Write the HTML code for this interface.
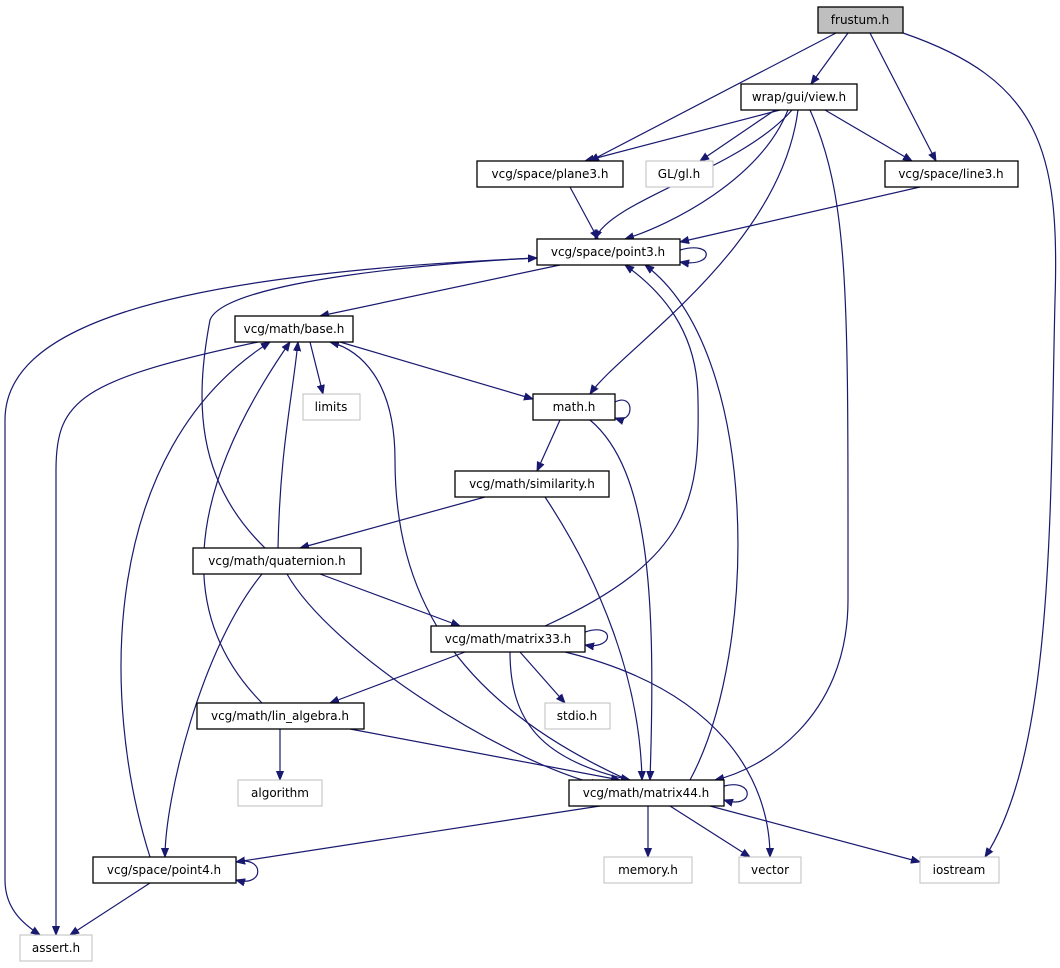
<!DOCTYPE html>
<html><head><meta charset="utf-8"><style>
html,body{margin:0;padding:0;background:#fff;}
svg{display:block;}
text{font-family:"DejaVu Sans","Liberation Sans",sans-serif;font-size:12px;text-anchor:middle;fill:#000;}
.n{fill:#fff;stroke:#000;stroke-width:1.3;}
.g{fill:#fff;stroke:#bfbfbf;stroke-width:1;}
.e{fill:none;stroke:#191970;stroke-width:1.2;}
</style></head><body>
<svg width="1060" height="968" viewBox="0 0 1060 968" xmlns="http://www.w3.org/2000/svg">
<defs><marker id="a" viewBox="0 0 10 10" refX="10" refY="5" markerWidth="9" markerHeight="9" orient="auto" markerUnits="userSpaceOnUse"><path d="M0,1 L10,5 L0,9 z" fill="#191970" stroke="#191970"/></marker></defs>
<g class="e" marker-end="url(#a)">
<path d="M848,33 L811,84"/>
<path d="M836,33 L590,161"/>
<path d="M870,33 L936,161"/>
<path d="M903,33 C1040,80 1060,150 1055,300 C1050,500 1055,750 985,857"/>
<path d="M780,110 L585,161"/>
<path d="M775,110 L700,161"/>
<path d="M825,110 L912,161"/>
<path d="M788,110 C760,180 670,225 625,239"/>
<path d="M792,110 C740,170 610,200 595,239"/>
<path d="M798,110 C780,250 620,350 590,394"/>
<path d="M810,110 C850,200 848,300 848,600 C848,720 760,770 715,780"/>
<path d="M570,187 L598,239"/>
<path d="M920,187 L680,242"/>
<path d="M680,250 C715,240 715,268 680,262"/>
<path d="M560,265 L320,316"/>
<path d="M537,258 C150,275 5,330 5,420 L5,880 C5,910 25,925 40,935"/>
<path d="M310,342 L323,394"/>
<path d="M340,342 L533,399"/>
<path d="M258,342 C80,380 56,400 56,470 L56,935"/>
<path d="M615,402 C635,392 635,425 615,418"/>
<path d="M560,420 L537,471"/>
<path d="M590,420 C650,470 656,600 650,780"/>
<path d="M545,497 C600,580 640,680 642,780"/>
<path d="M485,497 L300,548"/>
<path d="M278,548 C280,450 292,400 298,342"/>
<path d="M265,548 C195,480 195,400 210,320 C225,280 450,262 537,258"/>
<path d="M320,574 L460,626"/>
<path d="M287,574 C330,650 500,760 600,785"/>
<path d="M262,574 C200,650 165,800 165,857"/>
<path d="M585,632 C615,622 615,650 585,645"/>
<path d="M545,626 C690,560 700,500 698,400 C698,330 660,290 625,265"/>
<path d="M465,652 L330,703"/>
<path d="M520,652 L565,703"/>
<path d="M510,652 C510,720 540,760 630,780"/>
<path d="M565,652 C720,690 770,780 770,857"/>
<path d="M262,703 C180,620 180,500 290,342"/>
<path d="M280,729 L280,780"/>
<path d="M350,729 L620,780"/>
<path d="M628,780 C450,700 395,590 395,460 C395,380 360,350 330,342"/>
<path d="M690,780 C760,650 760,350 645,265"/>
<path d="M724,786 C755,778 755,810 724,800"/>
<path d="M600,806 L236,862"/>
<path d="M648,806 L648,857"/>
<path d="M670,806 L750,857"/>
<path d="M710,806 L920,862"/>
<path d="M236,862 C265,855 265,888 236,880"/>
<path d="M150,857 C100,700 100,450 270,342"/>
<path d="M150,883 L70,935"/>
</g>
<rect x="818" y="7" width="85" height="26" fill="#bfbfbf" stroke="#000" stroke-width="1.3"/><text x="860" y="24">frustum.h</text>
<rect class="n" x="741" y="84" width="116" height="26"/><text x="799" y="101">wrap/gui/view.h</text>
<rect class="n" x="477" y="161" width="146" height="26"/><text x="550" y="178">vcg/space/plane3.h</text>
<rect class="g" x="646" y="161" width="67" height="26"/><text x="679" y="178">GL/gl.h</text>
<rect class="n" x="885" y="161" width="133" height="26"/><text x="951" y="178">vcg/space/line3.h</text>
<rect class="n" x="537" y="239" width="143" height="26"/><text x="608" y="256">vcg/space/point3.h</text>
<rect class="n" x="235" y="316" width="118" height="26"/><text x="294" y="333">vcg/math/base.h</text>
<rect class="g" x="303" y="394" width="57" height="26"/><text x="331" y="411">limits</text>
<rect class="n" x="533" y="394" width="82" height="26"/><text x="574" y="411">math.h</text>
<rect class="n" x="455" y="471" width="154" height="26"/><text x="532" y="488">vcg/math/similarity.h</text>
<rect class="n" x="193" y="548" width="168" height="26"/><text x="277" y="565">vcg/math/quaternion.h</text>
<rect class="n" x="431" y="626" width="154" height="26"/><text x="508" y="643">vcg/math/matrix33.h</text>
<rect class="g" x="545" y="703" width="65" height="26"/><text x="577" y="720">stdio.h</text>
<rect class="n" x="197" y="703" width="167" height="26"/><text x="280" y="720">vcg/math/lin_algebra.h</text>
<rect class="g" x="238" y="780" width="84" height="26"/><text x="280" y="797">algorithm</text>
<rect class="n" x="569" y="780" width="155" height="26"/><text x="646" y="797">vcg/math/matrix44.h</text>
<rect class="n" x="93" y="857" width="143" height="26"/><text x="164" y="874">vcg/space/point4.h</text>
<rect class="g" x="604" y="857" width="88" height="26"/><text x="648" y="874">memory.h</text>
<rect class="g" x="739" y="857" width="62" height="26"/><text x="770" y="874">vector</text>
<rect class="g" x="920" y="857" width="79" height="26"/><text x="959" y="874">iostream</text>
<rect class="g" x="20" y="935" width="72" height="26"/><text x="56" y="952">assert.h</text>
</svg>
</body></html>
